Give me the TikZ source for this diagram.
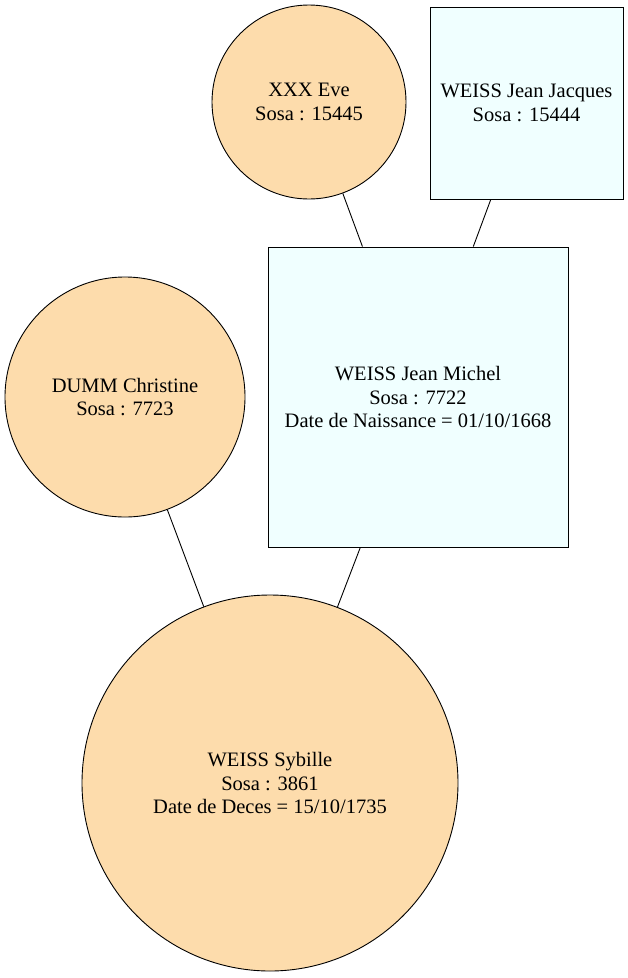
\documentclass[tikz,border=0pt]{standalone}
\usepackage{fontspec}
\setmainfont{Liberation Serif}
\begin{document}
\begin{tikzpicture}[x=1pt,y=-1pt,
  person/.style={draw=black,line width=0.9pt,inner sep=0pt,align=center,
    font=\fontsize{20.5}{23.5}\selectfont},
  woman/.style={person,circle,fill=fembg},
  man/.style={person,rectangle,fill=manbg},
  link/.style={draw=black,line width=0.9pt}]
\definecolor{fembg}{HTML}{FDDCAC}
\definecolor{manbg}{HTML}{F0FFFF}
\useasboundingbox (0,0) rectangle (628,978);
\node[woman,minimum size=194pt] (eve) at (309,102) {XXX Eve\\Sosa : 15445};
\node[man,minimum width=193pt,minimum height=192pt] (jacques) at (526.5,103) {WEISS Jean Jacques\\Sosa : 15444};
\node[man,minimum width=300pt,minimum height=300pt] (michel) at (418,397) {WEISS Jean Michel\\Sosa : 7722\\Date de Naissance = 01/10/1668};
\node[woman,minimum size=240pt] (christine) at (125,397) {DUMM Christine\\Sosa : 7723};
\node[woman,minimum size=376pt] (sybille) at (270,783) {WEISS Sybille\\Sosa : 3861\\Date de Deces = 15/10/1735};
\draw[link] (eve) -- (michel);
\draw[link] (jacques) -- (michel);
\draw[link] (christine) -- (sybille);
\draw[link] (michel) -- (sybille);
\end{tikzpicture}
\end{document}
